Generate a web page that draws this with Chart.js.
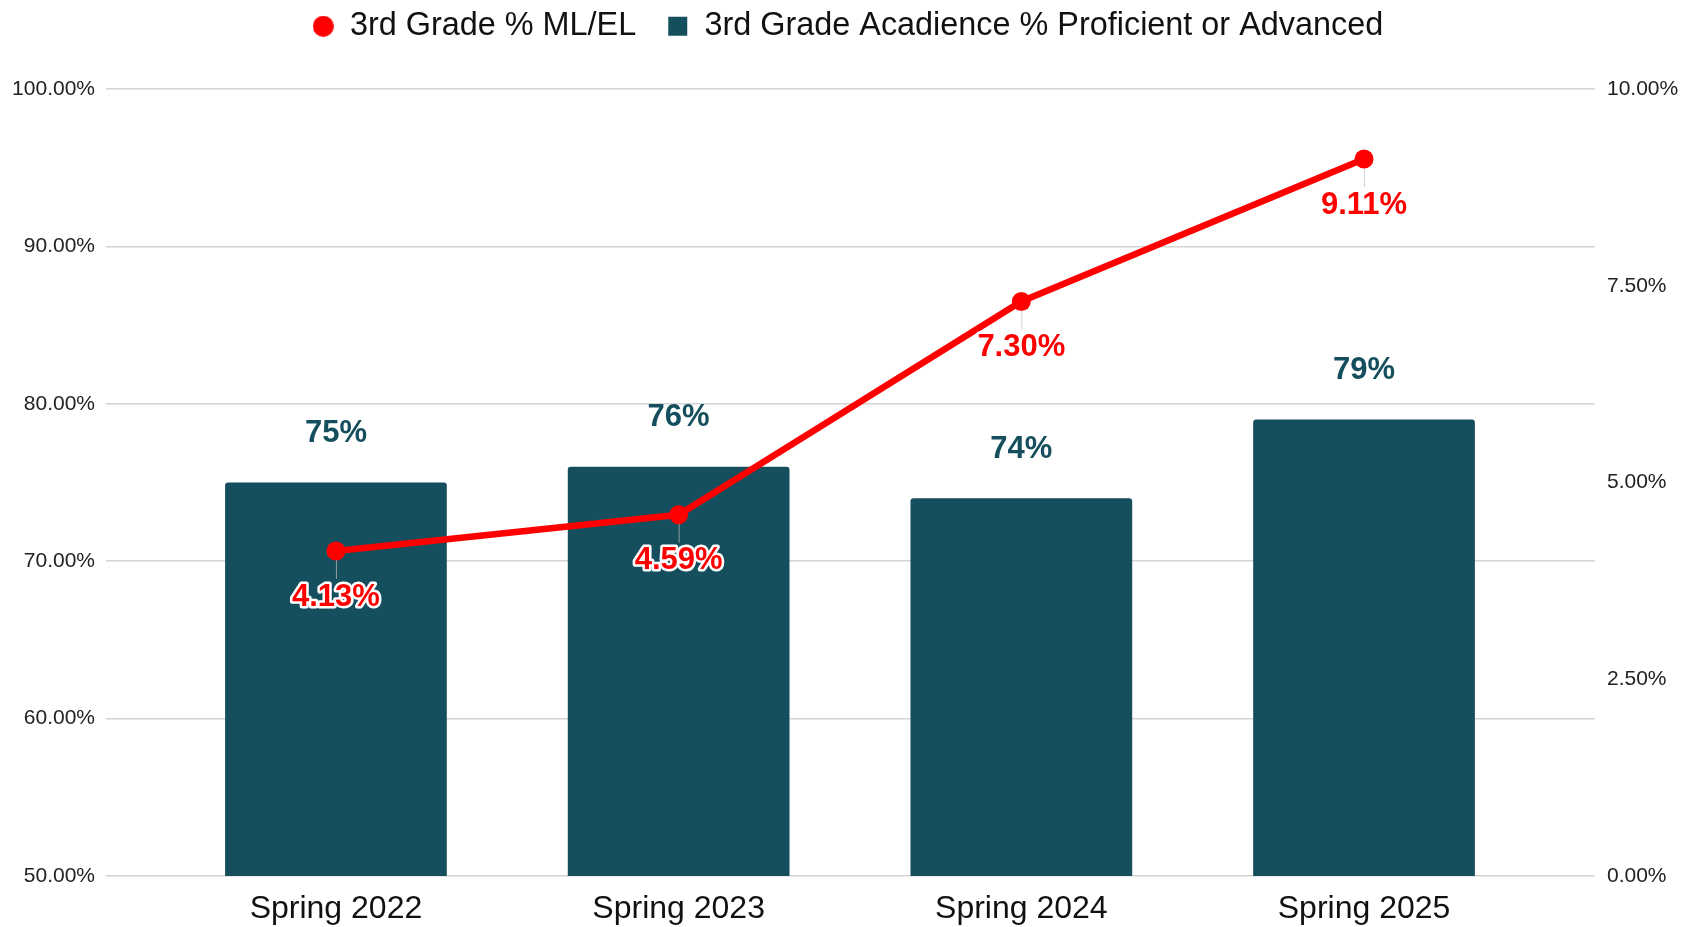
<!DOCTYPE html>
<html>
<head>
<meta charset="utf-8">
<script src="https://cdn.jsdelivr.net/npm/chart.js@4/dist/chart.umd.min.js"></script>
<style>
  html, body { margin: 0; padding: 0; background: #ffffff; }
  #wrap { width: 1696px; height: 927px; }
</style>
</head>
<body>
<div id="wrap"><canvas id="c" width="1696" height="927"></canvas></div>
<script>
const categories = ['Spring 2022', 'Spring 2023', 'Spring 2024', 'Spring 2025'];
const proficientValues = [75, 76, 74, 79];
const proficientLabels = ['75%', '76%', '74%', '79%'];
const mlelValues = [4.13, 4.59, 7.30, 9.11];
const mlelLabels = ['4.13%', '4.59%', '7.30%', '9.11%'];
const leftTicks = [50, 60, 70, 80, 90, 100];
const rightTicks = [0, 2.5, 5, 7.5, 10];

const BAR_COLOR = '#154F5E';
const RED = '#FF0000';
const FONT = "'Liberation Sans', Arial, sans-serif";

function markerCanvas(shape, color) {
  const c = document.createElement('canvas');
  c.width = 21; c.height = 21;
  const g = c.getContext('2d');
  g.fillStyle = color;
  if (shape === 'circle') {
    g.beginPath(); g.arc(10.5, 10.5, 10.5, 0, Math.PI * 2); g.fill();
  } else {
    g.fillRect(1, 1, 19, 19);
  }
  return c;
}
const legendMarkers = [markerCanvas('circle', RED), markerCanvas('rect', BAR_COLOR)];

const legendHeightPlugin = {
  id: 'legendHeight',
  beforeLayout(chart) {
    const lg = chart.legend;
    if (lg && !lg._fitWrapped) {
      const origFit = lg.fit.bind(lg);
      lg.fit = function () { origFit(); this.height = 89; };
      const origDraw = lg.draw.bind(lg);
      lg.draw = function () {
        const ctx = this.ctx;
        ctx.save();
        ctx.translate(0, -21);
        origDraw();
        ctx.restore();
      };
      lg._fitWrapped = true;
    }
  }
};

const labelPlugin = {
  id: 'valueLabels',
  afterDatasetsDraw(chart) {
    const ctx = chart.ctx;
    ctx.save();
    ctx.textAlign = 'center';
    ctx.textBaseline = 'middle';
    ctx.lineJoin = 'round';
    chart.data.datasets.forEach((ds, di) => {
      const meta = chart.getDatasetMeta(di);
      meta.data.forEach((el, i) => {
        if (ds.type === 'bar') {
          ctx.font = "bold 31px " + FONT;
          ctx.fillStyle = BAR_COLOR;
          ctx.fillText(proficientLabels[i], el.x, el.y - 49);
        } else {
          ctx.strokeStyle = 'rgba(190,190,190,0.7)';
          ctx.lineWidth = 1;
          ctx.beginPath();
          ctx.moveTo(el.x + 0.5, el.y + 9);
          ctx.lineTo(el.x + 0.5, el.y + 28);
          ctx.stroke();
          ctx.font = "bold 31px " + FONT;
          ctx.strokeStyle = '#ffffff';
          ctx.lineWidth = 5;
          ctx.strokeText(mlelLabels[i], el.x, el.y + 46);
          ctx.fillStyle = RED;
          ctx.fillText(mlelLabels[i], el.x, el.y + 46);
        }
      });
    });
    ctx.restore();
  }
};

new Chart(document.getElementById('c'), {
  data: {
    datasets: [
      {
        type: 'line',
        label: '3rd Grade % ML/EL',
        data: mlelValues.map((v, i) => ({ x: i, y: v })),
        yAxisID: 'y1',
        borderColor: RED,
        backgroundColor: RED,
        borderWidth: 6.5,
        pointRadius: 9.5,
        pointHoverRadius: 9.5,
        pointStyle: 'circle',
        pointBorderWidth: 0,
        tension: 0,
        order: 0
      },
      {
        type: 'bar',
        label: '3rd Grade Acadience % Proficient or Advanced',
        data: proficientValues.map((v, i) => ({ x: i, y: v })),
        yAxisID: 'y',
        backgroundColor: BAR_COLOR,
        borderColor: BAR_COLOR,
        borderWidth: 0,
        borderRadius: { topLeft: 3, topRight: 3 },
        borderSkipped: 'bottom',
        categoryPercentage: 1,
        barPercentage: 0.647,
        order: 1
      }
    ]
  },
  options: {
    responsive: false,
    animation: false,
    devicePixelRatio: 1,
    layout: { padding: { top: 0, left: 0, right: 0, bottom: 0 } },
    plugins: {
      tooltip: { enabled: false },
      legend: {
        position: 'top',
        labels: {
          usePointStyle: true,
          boxWidth: 21,
          boxHeight: 21,
          padding: 31,
          color: '#111111',
          font: { family: FONT, size: 32.4 },
          generateLabels(chart) {
            const items = Chart.defaults.plugins.legend.labels.generateLabels(chart);
            items.forEach(it => { it.pointStyle = legendMarkers[it.datasetIndex]; });
            return items;
          }
        }
      }
    },
    scales: {
      x: {
        type: 'linear',
        min: -0.671,
        max: 3.674,
        offset: false,
        grid: { display: false, drawTicks: false },
        border: { display: false },
        afterBuildTicks(scale) { scale.ticks = categories.map((_, i) => ({ value: i })); },
        afterFit(scale) { scale.height = 51; },
        ticks: {
          autoSkip: false,
          maxRotation: 0,
          padding: 14,
          color: '#111111',
          font: { family: FONT, size: 32 },
          callback: (v) => categories[v] !== undefined ? categories[v] : ''
        }
      },
      y: {
        position: 'left',
        min: 50,
        max: 100,
        afterBuildTicks(scale) { scale.ticks = leftTicks.map(v => ({ value: v })); },
        afterFit(scale) { scale.width = 106; },
        grid: { color: '#d4d4d4', lineWidth: 1.6, drawTicks: false },
        border: { display: false },
        ticks: {
          padding: 11,
          color: '#222222',
          font: { family: FONT, size: 21 },
          callback: (v) => Number(v).toFixed(2) + '%'
        }
      },
      y1: {
        position: 'right',
        min: 0,
        max: 10,
        afterBuildTicks(scale) { scale.ticks = rightTicks.map(v => ({ value: v })); },
        afterFit(scale) { scale.width = 101; },
        grid: { display: false, drawTicks: false },
        border: { display: false },
        ticks: {
          padding: 12,
          color: '#222222',
          font: { family: FONT, size: 21 },
          callback: (v) => Number(v).toFixed(2) + '%'
        }
      }
    }
  },
  plugins: [legendHeightPlugin, labelPlugin]
});
</script>
</body>
</html>
